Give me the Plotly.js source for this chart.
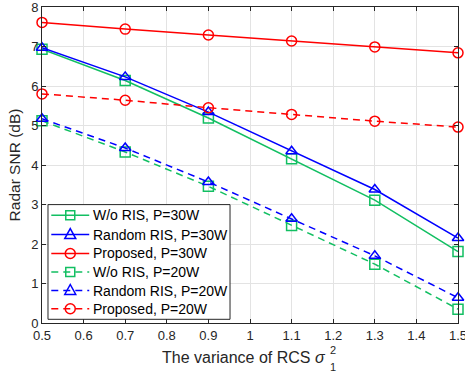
<!DOCTYPE html>
<html>
<head>
<meta charset="utf-8">
<script src="https://cdn.plot.ly/plotly-3.0.1.min.js"></script>
<style>html,body{margin:0;padding:0;background:#fff;}#chart{width:465px;height:382px;}</style>
</head>
<body>
<div id="chart"></div>
<script>
const xVals = [0.5, 0.7, 0.9, 1.1, 1.3, 1.5];
const woRis30 = [6.93, 6.14, 5.19, 4.16, 3.11, 1.81];
const randRis30 = [6.97, 6.23, 5.34, 4.35, 3.38, 2.15];
const proposed30 = [7.61, 7.44, 7.29, 7.14, 6.99, 6.84];
const woRis20 = [5.12, 4.33, 3.46, 2.47, 1.49, 0.35];
const randRis20 = [5.17, 4.43, 3.57, 2.64, 1.70, 0.64];
const proposed20 = [5.80, 5.64, 5.45, 5.28, 5.11, 4.96];
const seriesNames = ['W/o RIS, P=30W','Random RIS, P=30W','Proposed, P=30W','W/o RIS, P=20W','Random RIS, P=20W','Proposed, P=20W'];
const xTickVals = [0.5,0.6,0.7,0.8,0.9,1.0,1.1,1.2,1.3,1.4,1.5];
const xTickText = ['0.5','0.6','0.7','0.8','0.9','1','1.1','1.2','1.3','1.4','1.5'];
const yTickVals = [0,1,2,3,4,5,6,7,8];

const GREEN = '#12BF62', BLUE = '#0000FF', RED = '#FF0000';
const DASH = '7px,5px';
const styles = [
  {color:GREEN, sym:'square-open', dash:'solid'},
  {color:BLUE, sym:'triangle-up-open', dash:'solid'},
  {color:RED, sym:'circle-open', dash:'solid'},
  {color:GREEN, sym:'square-open', dash:DASH},
  {color:BLUE, sym:'triangle-up-open', dash:DASH},
  {color:RED, sym:'circle-open', dash:DASH}
];
const ys = [woRis30, randRis30, proposed30, woRis20, randRis20, proposed20];
const data = ys.map((y,i)=>({x:xVals, y:y, name:seriesNames[i], type:'scatter', mode:'lines+markers',
  line:{color:styles[i].color, width:1.5, dash:styles[i].dash},
  marker:{symbol:styles[i].sym, size:10, color:styles[i].color, line:{color:styles[i].color, width:1.5}},
  cliponaxis:false, showlegend:false}));

const L=41.7, R=458.3, T=6.7, B=322.7, W=465, H=382;
const px = p => (p-L)/(R-L);
const py = p => (B-p)/(B-T);
const fam = 'Liberation Sans, Arial, sans-serif';

// custom legend (layout decoration)
const shapes = [];
const annotations = [];
const lgL=47.7, lgR=230, lgT=204.3, lgB=319;
shapes.push({type:'rect', xref:'paper', yref:'paper', x0:px(lgL), x1:px(lgR), y0:py(lgB), y1:py(lgT),
  fillcolor:'#fff', line:{color:'#262626', width:1}, layer:'above'});
const rowY = [215, 234.3, 253.2, 271.7, 290.2, 308.5];
styles.forEach((s,i)=>{
  const cy = rowY[i], cx = 70;
  shapes.push({type:'line', xref:'paper', yref:'paper', x0:px(51), x1:px(89), y0:py(cy), y1:py(cy),
    line:{color:s.color, width:1.5, dash:s.dash==='solid'?'solid':DASH}, layer:'above'});
  if (s.sym==='square-open') {
    shapes.push({type:'rect', xref:'paper', yref:'paper', x0:px(cx-4.5), x1:px(cx+4.5), y0:py(cy+4.5), y1:py(cy-4.5),
      line:{color:s.color, width:1.5}, fillcolor:'rgba(0,0,0,0)', layer:'above'});
  } else if (s.sym==='circle-open') {
    shapes.push({type:'circle', xref:'paper', yref:'paper', x0:px(cx-5), x1:px(cx+5), y0:py(cy+5), y1:py(cy-5),
      line:{color:s.color, width:1.5}, fillcolor:'rgba(0,0,0,0)', layer:'above'});
  } else {
    const p = `M ${px(cx-5.5)},${py(cy+4)} L ${px(cx+5.5)},${py(cy+4)} L ${px(cx)},${py(cy-6)} Z`;
    shapes.push({type:'path', xref:'paper', yref:'paper', path:p,
      line:{color:s.color, width:1.5}, fillcolor:'rgba(0,0,0,0)', layer:'above'});
  }
  annotations.push({xref:'paper', yref:'paper', x:px(91), y:py(cy), xanchor:'left', yanchor:'middle',
    text:seriesNames[i], showarrow:false, font:{size:14, color:'#000', family:fam}});
});

annotations.push(
  {xref:'paper', yref:'paper', x:px(328), y:py(357), xanchor:'right', yanchor:'middle',
    text:'The variance of RCS <i>σ</i>', showarrow:false, font:{size:16, color:'#262626'}},
  {xref:'paper', yref:'paper', x:px(328), y:py(350), xanchor:'left', yanchor:'middle',
    text:'2', showarrow:false, font:{size:11, color:'#262626'}},
  {xref:'paper', yref:'paper', x:px(328), y:py(367), xanchor:'left', yanchor:'middle',
    text:'1', showarrow:false, font:{size:11, color:'#262626'}}
);

const layout = {
  width:W, height:H,
  margin:{l:L, r:W-R, t:T, b:H-B, autoexpand:false},
  paper_bgcolor:'#fff', plot_bgcolor:'#fff',
  font:{family:fam, size:13, color:'#262626'},
  showlegend:false,
  xaxis:{range:[0.5,1.5], tickvals:xTickVals, ticktext:xTickText, ticks:'inside', ticklen:4,
    tickcolor:'#262626', showline:true, linecolor:'#262626', linewidth:1, mirror:'ticks',
    showgrid:true, gridcolor:'#e3e3e3', gridwidth:1, zeroline:false, ticklabeloverflow:'allow',
    tickfont:{size:13, color:'#262626'}},
  yaxis:{range:[0,8], tickvals:yTickVals, ticks:'inside', ticklen:4,
    tickcolor:'#262626', showline:true, linecolor:'#262626', linewidth:1, mirror:'ticks',
    showgrid:true, gridcolor:'#e3e3e3', gridwidth:1, zeroline:false, ticklabeloverflow:'allow',
    tickfont:{size:13, color:'#262626'},
    title:{text:'Radar SNR (dB)', font:{size:15.5, color:'#262626'}, standoff:6}},
  shapes:shapes,
  annotations:annotations
};
Plotly.newPlot('chart', data, layout, {displayModeBar:false, staticPlot:true});
</script>
</body>
</html>
